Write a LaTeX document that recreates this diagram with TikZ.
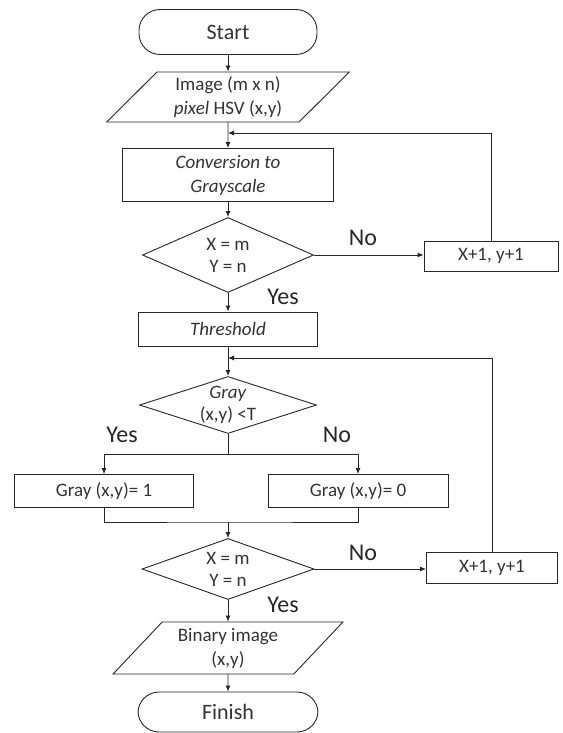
\documentclass[tikz,border=0pt]{standalone}
\usepackage{fontspec}
\setmainfont{Carlito}
\usetikzlibrary{shapes.geometric, positioning, arrows.meta, calc}

\begin{document}
\begin{tikzpicture}[x=1pt, y=-1pt,
    base/.style={draw=black!85, line width=0.9pt, text=black!80, align=center,
                 inner sep=0pt, font=\fontsize{19}{24}\selectfont},
    term/.style={base, rectangle, rounded corners=21pt, font=\fontsize{22}{26}\selectfont},
    proc/.style={base, rectangle},
    io/.style={base, trapezium, trapezium left angle=47, trapezium right angle=133,
               trapezium stretches=true},
    dec/.style={base, diamond, inner sep=-3pt, font=\fontsize{19}{22}\selectfont},
    lbl/.style={font=\fontsize{24}{26}\selectfont, text=black!85},
    arr/.style={-{Latex[length=6pt, width=5pt]}, line width=0.9pt, draw=black!85}
  ]
  \fill[white] (0,0) rectangle (562,733);

  % main column
  \node[term, minimum width=178pt, minimum height=45pt] (start) at (228,32) {Start};
  \node[io, minimum width=243pt, minimum height=50pt] (img) at (228,97)
        {Image (m x n)\\\textit{pixel} HSV (x,y)};
  \node[proc, minimum width=211pt, minimum height=53pt] (conv) at (228,175)
        {\textit{Conversion to}\\\textit{Grayscale}};
  \node[dec, aspect=2.3, minimum width=171pt, minimum height=75pt] (dec1) at (228,255)
        {X = m\\Y = n};
  \node[proc, minimum width=179pt, minimum height=34pt] (thr) at (228,329) {\textit{Threshold}};
  \node[dec, aspect=3.1, minimum width=177pt, minimum height=57pt] (dec2) at (228,405)
        {\textit{Gray}\\(x,y) <T};
  \node[proc, minimum width=179pt, minimum height=33pt] (g1) at (104,491) {Gray (x,y)= 1};
  \node[proc, minimum width=180pt, minimum height=33pt] (g0) at (358,491) {Gray (x,y)= 0};
  \node[dec, aspect=2.8, minimum width=172pt, minimum height=61pt] (dec3) at (228,569)
        {X = m\\Y = n};
  \node[io, minimum width=230pt, minimum height=52pt] (bin) at (228,648)
        {Binary image\\(x,y)};
  \node[term, minimum width=180pt, minimum height=40pt] (fin) at (228,712) {Finish};

  % counters on the right
  \node[proc, minimum width=134pt, minimum height=30pt] (inc1) at (491,256) {X+1, y+1};
  \node[proc, minimum width=131pt, minimum height=31pt] (inc2) at (492,568) {X+1, y+1};

  % branch labels
  \node[lbl] (no1)  at (363,238) {No};
  \node[lbl] (yes1) at (283,297) {Yes};
  \node[lbl] (yes2) at (122,435) {Yes};
  \node[lbl] (no2)  at (337,435) {No};
  \node[lbl] (no3)  at (363,553) {No};
  \node[lbl] (yes3) at (283,605) {Yes};

  % junctions
  \coordinate (j1) at (228,133);
  \coordinate (j2) at (228,358);
  \coordinate (sp) at (228,454);
  \coordinate (mg) at (228,522);

  \draw[arr] (start) -- (img);
  \draw[arr] (img) -- (conv);
  \draw[arr] (inc1.north) |- (j1);
  \draw[arr] (conv) -- (dec1);
  \draw[arr] (dec1.east) -- (dec1.east -| inc1.west);
  \draw[arr] (dec1) -- (thr);
  \draw[arr] (thr) -- (dec2);
  \draw[arr] (inc2.north) |- (j2);
  \draw[line width=0.9pt, black!85] (dec2.south) -- (sp);
  \draw[arr] (sp) -| (g1);
  \draw[arr] (sp) -| (g0);
  \draw[line width=0.9pt, black!85] (g1) |- (mg) -| (g0);
  \draw[arr] (mg) -- (dec3);
  \draw[arr] (dec3.east) -- (dec3.east -| inc2.west);
  \draw[arr] (dec3) -- (bin);
  \draw[arr] (bin) -- (fin);
\end{tikzpicture}
\end{document}
